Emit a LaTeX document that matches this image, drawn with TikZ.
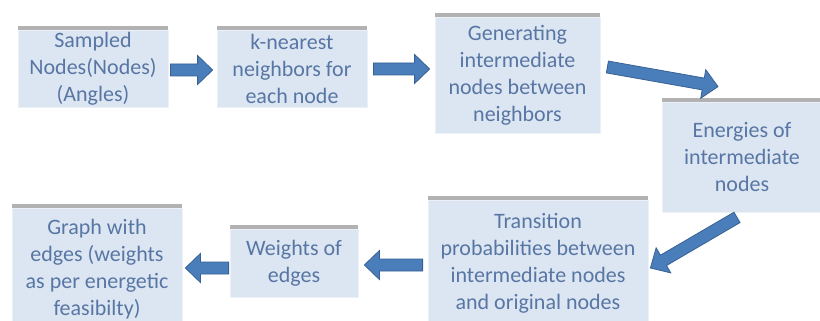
\documentclass[tikz,border=0pt]{standalone}
\usepackage{fontspec}
\setmainfont{Carlito}
\usetikzlibrary{calc,shadows}
\definecolor{boxfill}{RGB}{220,230,242}
\definecolor{boxedge}{RGB}{236,241,248}
\definecolor{txt}{RGB}{88,118,164}
\definecolor{arrfill}{RGB}{74,126,187}
\definecolor{arredge}{RGB}{56,96,148}
\newcommand\blockarrow[2]{%
  \draw[barrow] let \p1=(#1), \p2=(#2),
    \n1={atan2(\y2-\y1,\x2-\x1)},
    \n2={veclen(\x2-\x1,\y2-\y1)-15pt}
  in ($(\p1)+(\n1+90:6pt)$) -- ++(\n1:\n2) -- ++(\n1+90:8.5pt) -- (\p2)
     -- ($(\p1)+(\n1:\n2)+(\n1-90:14.5pt)$) -- ++(\n1+90:8.5pt) -- ++(\n1+180:\n2) -- cycle;
}
\tikzset{
  stepbox/.style={rectangle, fill=boxfill, draw=boxedge, line width=0.8pt,
    text=txt, align=center, inner sep=2pt,
    font=\fontsize{22}{27}\selectfont,
    drop shadow={shadow xshift=0pt, shadow yshift=4pt, fill=black!30, opacity=1}},
  barrow/.style={fill=arrfill, draw=arredge, line width=0.8pt, line join=miter}
}
\begin{document}
\begin{tikzpicture}[x=1pt,y=-1pt]
\useasboundingbox (0,0) rectangle (820,321);
\fill[white] (0,0) rectangle (820,321);
\clip (0,0) rectangle (820,321);
\node[stepbox, minimum width=150pt, minimum height=77pt] (b1) at (93,68.5) {Sampled\\Nodes(Nodes)\\(Angles)};
\node[stepbox, minimum width=150pt, minimum height=77pt] (b2) at (292,68.5) {k-nearest\\neighbors for\\each node};
\node[stepbox, minimum width=165pt, minimum height=116pt] (b3) at (517.5,75) {Generating\\intermediate\\nodes between\\neighbors};
\node[stepbox, minimum width=160pt, minimum height=110pt] (b4) at (742,157) {Energies of\\intermediate\\nodes};
\node[stepbox, minimum width=220pt, minimum height=127pt] (b5) at (538,263.5) {Transition\\probabilities between\\intermediate nodes\\and original nodes};
\node[stepbox, minimum width=128pt, minimum height=68pt] (b6) at (294,263) {Weights of\\edges};
\node[stepbox, minimum width=170pt, minimum height=122pt] (b7) at (97,269) {Graph with\\edges (weights\\as per energetic\\feasibilty)};
\blockarrow{$(b1.east)+(2,1.5)$}{$(b2.west)+(-4,1.5)$}
\blockarrow{$(b2.east)+(6,0.5)$}{$(b3.west)+(-5,-6)$}
\blockarrow{$(b3.east)+(7,-8)$}{$(b4.north)+(-24,-15)$}
\blockarrow{$(b4.south)+(-5,5)$}{$(b5.east)+(2,4.5)$}
\blockarrow{$(b5.west)+(-5,1.5)$}{$(b6.east)+(6,2)$}
\blockarrow{$(b6.west)+(-1,5)$}{$(b7.east)+(3,-1)$}
\end{tikzpicture}
\end{document}
